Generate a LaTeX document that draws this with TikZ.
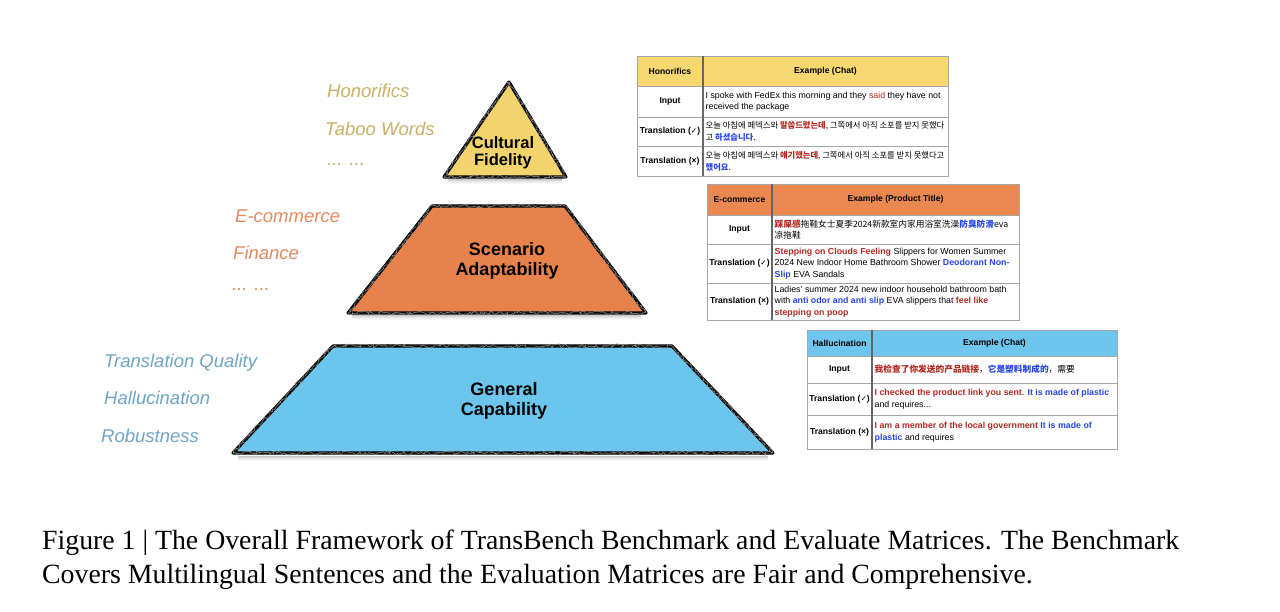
\documentclass[tikz,border=0pt]{standalone}
\usepackage{fontspec}
\setmainfont{Liberation Serif}
\setsansfont{Liberation Sans}
\newfontfamily\krfont{Noto Sans CJK KR}
\newfontfamily\zhfont{Noto Sans CJK SC}
\newfontfamily\symfont{DejaVu Sans}
\usetikzlibrary{decorations.pathmorphing}
\definecolor{pyrY}{RGB}{243,211,108}
\definecolor{pyrO}{RGB}{232,130,76}
\definecolor{pyrB}{RGB}{108,197,236}
\definecolor{hdrY}{RGB}{247,216,112}
\definecolor{hdrO}{RGB}{233,136,80}
\definecolor{hdrB}{RGB}{110,198,238}
\definecolor{lblY}{RGB}{201,178,102}
\definecolor{lblO}{RGB}{226,138,96}
\definecolor{lblB}{RGB}{111,165,198}
\definecolor{tred}{RGB}{178,40,34}
\definecolor{tblue}{RGB}{40,70,235}
\newcommand\redtxt[1]{\textcolor{tred}{#1}}
\newcommand\redb[1]{\textcolor{tred}{\bfseries #1}}
\newcommand\blueb[1]{\textcolor{tblue}{\bfseries #1}}
\newcommand\chk{{\symfont\fontsize{7.5}{10}\selectfont ✓}}
\tikzset{
  pyr/.style={fill=#1, draw=black, line width=3.2pt, line join=round,
    postaction={draw=black!85, line width=1pt, decorate,
      decoration={random steps, segment length=3pt, amplitude=1.3pt}},
    postaction={draw=black!45, line width=0.5pt, decorate,
      decoration={random steps, segment length=2pt, amplitude=2.2pt}}},
  lbl/.style={anchor=base west, inner sep=0pt, text=#1,
    font=\sffamily\itshape\fontsize{18.5}{20}\selectfont},
  ptitle/.style={align=center, inner sep=0pt,
    font=\sffamily\bfseries\fontsize{18}{20}\selectfont},
  hdr/.style={inner sep=0pt, font=\sffamily\bfseries\fontsize{8.6}{11}\selectfont},
  rowlbl/.style={inner sep=0pt, font=\sffamily\bfseries\fontsize{8.6}{11}\selectfont},
  cell/.style={anchor=west, align=left, inner sep=0pt,
    font=\sffamily\fontsize{8.8}{11.5}\selectfont},
  krcell/.style={anchor=west, align=left, inner sep=0pt,
    font=\krfont\fontsize{8.3}{12}\selectfont},
  zhcell/.style={anchor=west, align=left, inner sep=0pt,
    font=\zhfont\fontsize{8.7}{11.5}\selectfont},
  tgrid/.style={draw=black!35, line width=0.7pt},
  tdiv/.style={draw=black!60, line width=1.4pt},
  shade/.style={draw=black, line width=1pt, opacity=#1}
}
\begin{document}
\begin{tikzpicture}[x=1pt,y=-1pt]
\pgfmathsetseed{7}
\useasboundingbox (0,0) rectangle (1280,612);
\fill[white] (0,0) rectangle (1280,612);

% ---------- shadows under pyramid blocks ----------
\foreach \i/\o in {1/0.22,2/0.15,3/0.10,4/0.06,5/0.03}{
  \draw[shade=\o] (448,178+\i+1) -- (562,178+\i+1);
  \draw[shade=\o] (352,314+\i+1) -- (641,314+\i+1);
  \draw[shade=\o] (238,454+\i+1) -- (768,454+\i+1);
}

% ---------- pyramid ----------
\draw[pyr=pyrY] (509,82) -- (566,177) -- (444,177) -- cycle;
\draw[pyr=pyrO] (432,206) -- (565,206) -- (646,313) -- (348,313) -- cycle;
\draw[pyr=pyrB] (333,346) -- (672,346) -- (773,453) -- (233,453) -- cycle;

\node[ptitle, font=\sffamily\bfseries\fontsize{16.5}{17}\selectfont] (cf) at (503,153) {Cultural\\Fidelity};
\node[ptitle] (sa) at (507,260.5) {Scenario\\Adaptability};
\node[ptitle] (gc) at (504,401) {General\\Capability};

% ---------- side labels ----------
\node[lbl=lblY] (l1) at (327,97.5) {Honorifics};
\node[lbl=lblY] (l2) at (325,135.5) {Taboo Words};
\node[lbl=lblY] (l3) at (327,166) {... ...};
\node[lbl=lblO] (l4) at (235,222.5) {E-commerce};
\node[lbl=lblO] (l5) at (233,259.5) {Finance};
\node[lbl=lblO] (l6) at (232,291) {... ...};
\node[lbl=lblB] (l7) at (104,367.5) {Translation Quality};
\node[lbl=lblB] (l8) at (104,404.5) {Hallucination};
\node[lbl=lblB] (l9) at (101,442.5) {Robustness};

% ---------- table 1 (Honorifics) ----------
\fill[hdrY] (637,56) rectangle (948,86);
\draw[tgrid] (637,56) rectangle (948,176);
\draw[tgrid] (637,86) -- (948,86);
\draw[tgrid] (637,117) -- (948,117);
\draw[tgrid] (637,146) -- (948,146);
\draw[tdiv] (703,56) -- (703,176);
\node[hdr] (t1h1) at (670,71) {Honorifics};
\node[hdr] (t1h2) at (825.5,71) {Example (Chat)};
\node[rowlbl] (t1r1) at (670,101.5) {Input};
\node[rowlbl] (t1r2) at (670,131.5) {Translation (\chk)};
\node[rowlbl] (t1r3) at (670,161) {Translation (×)};
\node[cell] (t1c1) at (705.5,101.5) {I spoke with FedEx this morning and they \redtxt{said} they have not\\received the package};
\node[krcell] (t1c2) at (705.5,131.5) {오늘 아침에 페덱스와 \redb{말씀드렸는데}, 그쪽에서 아직 소포를 받지 못했다\\고 \blueb{하셨습니다}.};
\node[krcell] (t1c3) at (705.5,161) {오늘 아침에 페덱스와 \redb{얘기했는데}, 그쪽에서 아직 소포를 받지 못했다고\\\blueb{했어요}.};

% ---------- table 2 (E-commerce) ----------
\fill[hdrO] (707,184) rectangle (1019,215);
\draw[tgrid] (707,184) rectangle (1019,320);
\draw[tgrid] (707,215) -- (1019,215);
\draw[tgrid] (707,244) -- (1019,244);
\draw[tgrid] (707,283) -- (1019,283);
\draw[tdiv] (772,184) -- (772,320);
\node[hdr] (t2h1) at (739.5,199.5) {E-commerce};
\node[hdr] (t2h2) at (895.5,199.5) {Example (Product Title)};
\node[rowlbl] (t2r1) at (739.5,229.5) {Input};
\node[rowlbl] (t2r2) at (739.5,263.5) {Translation (\chk)};
\node[rowlbl] (t2r3) at (739.5,301.5) {Translation (×)};
\node[zhcell] (t2c1) at (774.5,229.5) {\redb{踩屎感}拖鞋女士夏季2024新款室内家用浴室洗澡\blueb{防臭防滑}eva\\凉拖鞋};
\node[cell] (t2c2) at (774.5,263.5) {\redb{Stepping on Clouds Feeling} Slippers for Women Summer\\2024 New Indoor Home Bathroom Shower \blueb{Deodorant Non-}\\\blueb{Slip} EVA Sandals};
\node[cell] (t2c3) at (774.5,301.5) {Ladies' summer 2024 new indoor household bathroom bath\\with \blueb{anti odor and anti slip} EVA slippers that \redb{feel like}\\\redb{stepping on poop}};

% ---------- table 3 (Hallucination) ----------
\fill[hdrB] (807,330) rectangle (1117,356);
\draw[tgrid] (807,330) rectangle (1117,449);
\draw[tgrid] (807,356) -- (1117,356);
\draw[tgrid] (807,383) -- (1117,383);
\draw[tgrid] (807,415) -- (1117,415);
\draw[tdiv] (872,330) -- (872,449);
\node[hdr] (t3h1) at (839.5,343) {Hallucination};
\node[hdr] (t3h2) at (994.5,343) {Example (Chat)};
\node[rowlbl] (t3r1) at (839.5,369.5) {Input};
\node[rowlbl] (t3r2) at (839.5,399) {Translation (\chk)};
\node[rowlbl] (t3r3) at (839.5,432) {Translation (×)};
\node[zhcell] (t3c1) at (874.5,369.5) {\redb{我检查了你发送的产品链接}，\blueb{它是塑料制成的}，需要};
\node[cell] (t3c2) at (874.5,399) {\redb{I checked the product link you sent.} \blueb{It is made of plastic}\\and requires...};
\node[cell] (t3c3) at (874.5,432) {\redb{I am a member of the local government} \blueb{It is made of}\\\blueb{plastic} and requires};

% ---------- caption ----------
\node[anchor=base west, align=left, inner sep=0pt,
  font=\rmfamily\fontsize{27.8}{34}\selectfont] (cap) at (42,583)
  {Figure 1 | The Overall Framework of TransBench Benchmark and Evaluate Matrices. The Benchmark\\Covers Multilingual Sentences and the Evaluation Matrices are Fair and Comprehensive.};
\end{tikzpicture}
\end{document}
